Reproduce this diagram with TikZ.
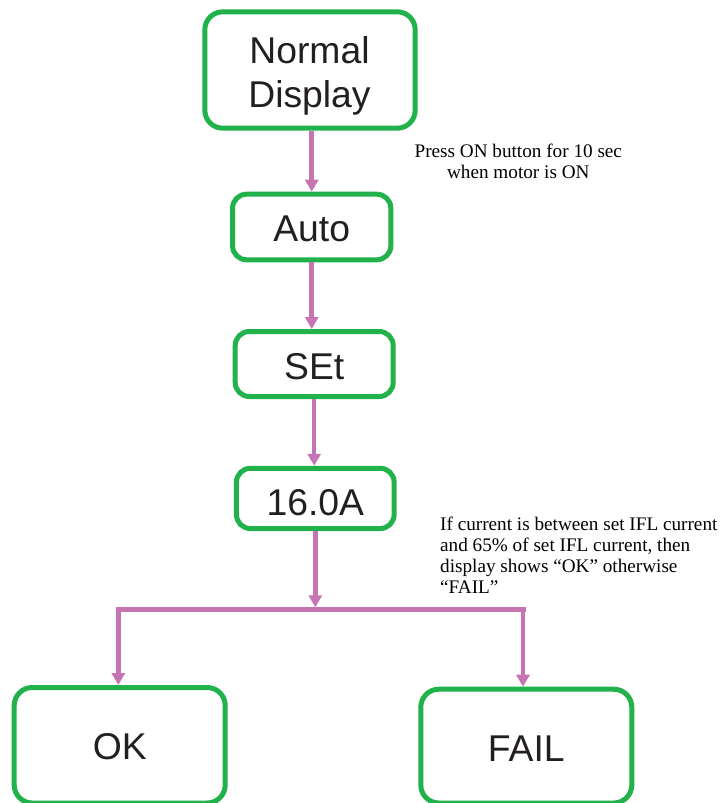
\documentclass[tikz,border=0pt]{standalone}
\usepackage{fontspec}
\setmainfont{Liberation Serif}
\newfontfamily\boxfont{Liberation Sans}
\usetikzlibrary{arrows.meta}
\definecolor{boxgreen}{RGB}{34,178,76}
\definecolor{arrowpink}{RGB}{199,116,178}
\definecolor{inkdark}{RGB}{35,31,32}
\begin{document}
\begin{tikzpicture}[x=1pt,y=-1pt,
  stbox/.style={draw=boxgreen,line width=5pt,rounded corners=18pt,inner sep=0pt,fill=white,
    text=inkdark,font=\boxfont\fontsize{37.3}{44}\selectfont,text depth=0pt},
  smallbox/.style={stbox,rounded corners=14pt},
  boxlabel/.style={inner sep=0pt,text=inkdark,align=center,font=\boxfont\fontsize{37.3}{44}\selectfont},
  flow/.style={draw=arrowpink,line width=4.5pt,-{Triangle[width=13pt,length=12pt]}},
  branch/.style={draw=arrowpink,line width=5pt},
  note/.style={inner sep=0pt,text=black,font=\fontsize{19.2}{21.1}\selectfont}]
\fill[white] (0,0) rectangle (721,803);
\useasboundingbox (0,0) rectangle (721,803);

% boxes
\node[stbox,minimum width=210.4pt,minimum height=116.4pt] (norm) at (310,70) {};
\node[boxlabel] (normtext) at (309.5,75.8) {Normal\\Display};
\node[smallbox,minimum width=158.3pt,minimum height=65.6pt,text height=29.4pt] (auto) at (311.7,227) {Auto};
\node[smallbox,minimum width=158pt,minimum height=65pt,text height=30pt] (set) at (314.2,364) {SEt};
\node[smallbox,minimum width=157.7pt,minimum height=60.3pt,text height=33.3pt] (cur) at (315.3,498.4) {16.0A};
\node[stbox,minimum width=211pt,minimum height=115.5pt,text height=28.1pt] (ok) at (119.7,745.25) {OK};
\node[stbox,minimum width=211pt,minimum height=113.8pt,text height=29.8pt] (fail) at (526.3,746.1) {FAIL};

% notes
\node[note,anchor=north,align=center] (note1) at (518.3,143.4)
  {Press ON button for 10 sec\\when motor is ON};
\node[note,anchor=north west,align=left] (note2) at (440,516.9)
  {If current is between set IFL current\\and 65\% of set IFL current, then\\display shows “OK” otherwise\\“FAIL”};

% connectors
\draw[flow] (norm.south -| auto.north) -- (auto.north);
\draw[flow] (auto.south) -- (auto.south |- set.north);
\draw[flow] (set.south) -- (set.south |- cur.north);
\coordinate (jl) at (116,609.8);
\coordinate (jr) at (525.5,609.8);
\coordinate (jm) at (315.3,607.3);
\coordinate (okdrop) at (118.3,607.5);
\coordinate (faildrop) at (523,612.3);
\draw[flow] (cur.south) -- (cur.south |- jm);
\draw[branch] (jl) -- (jr);
\draw[flow] (okdrop) -- (okdrop |- ok.north);
\draw[flow] (faildrop) -- (faildrop |- fail.north);
\end{tikzpicture}
\end{document}
